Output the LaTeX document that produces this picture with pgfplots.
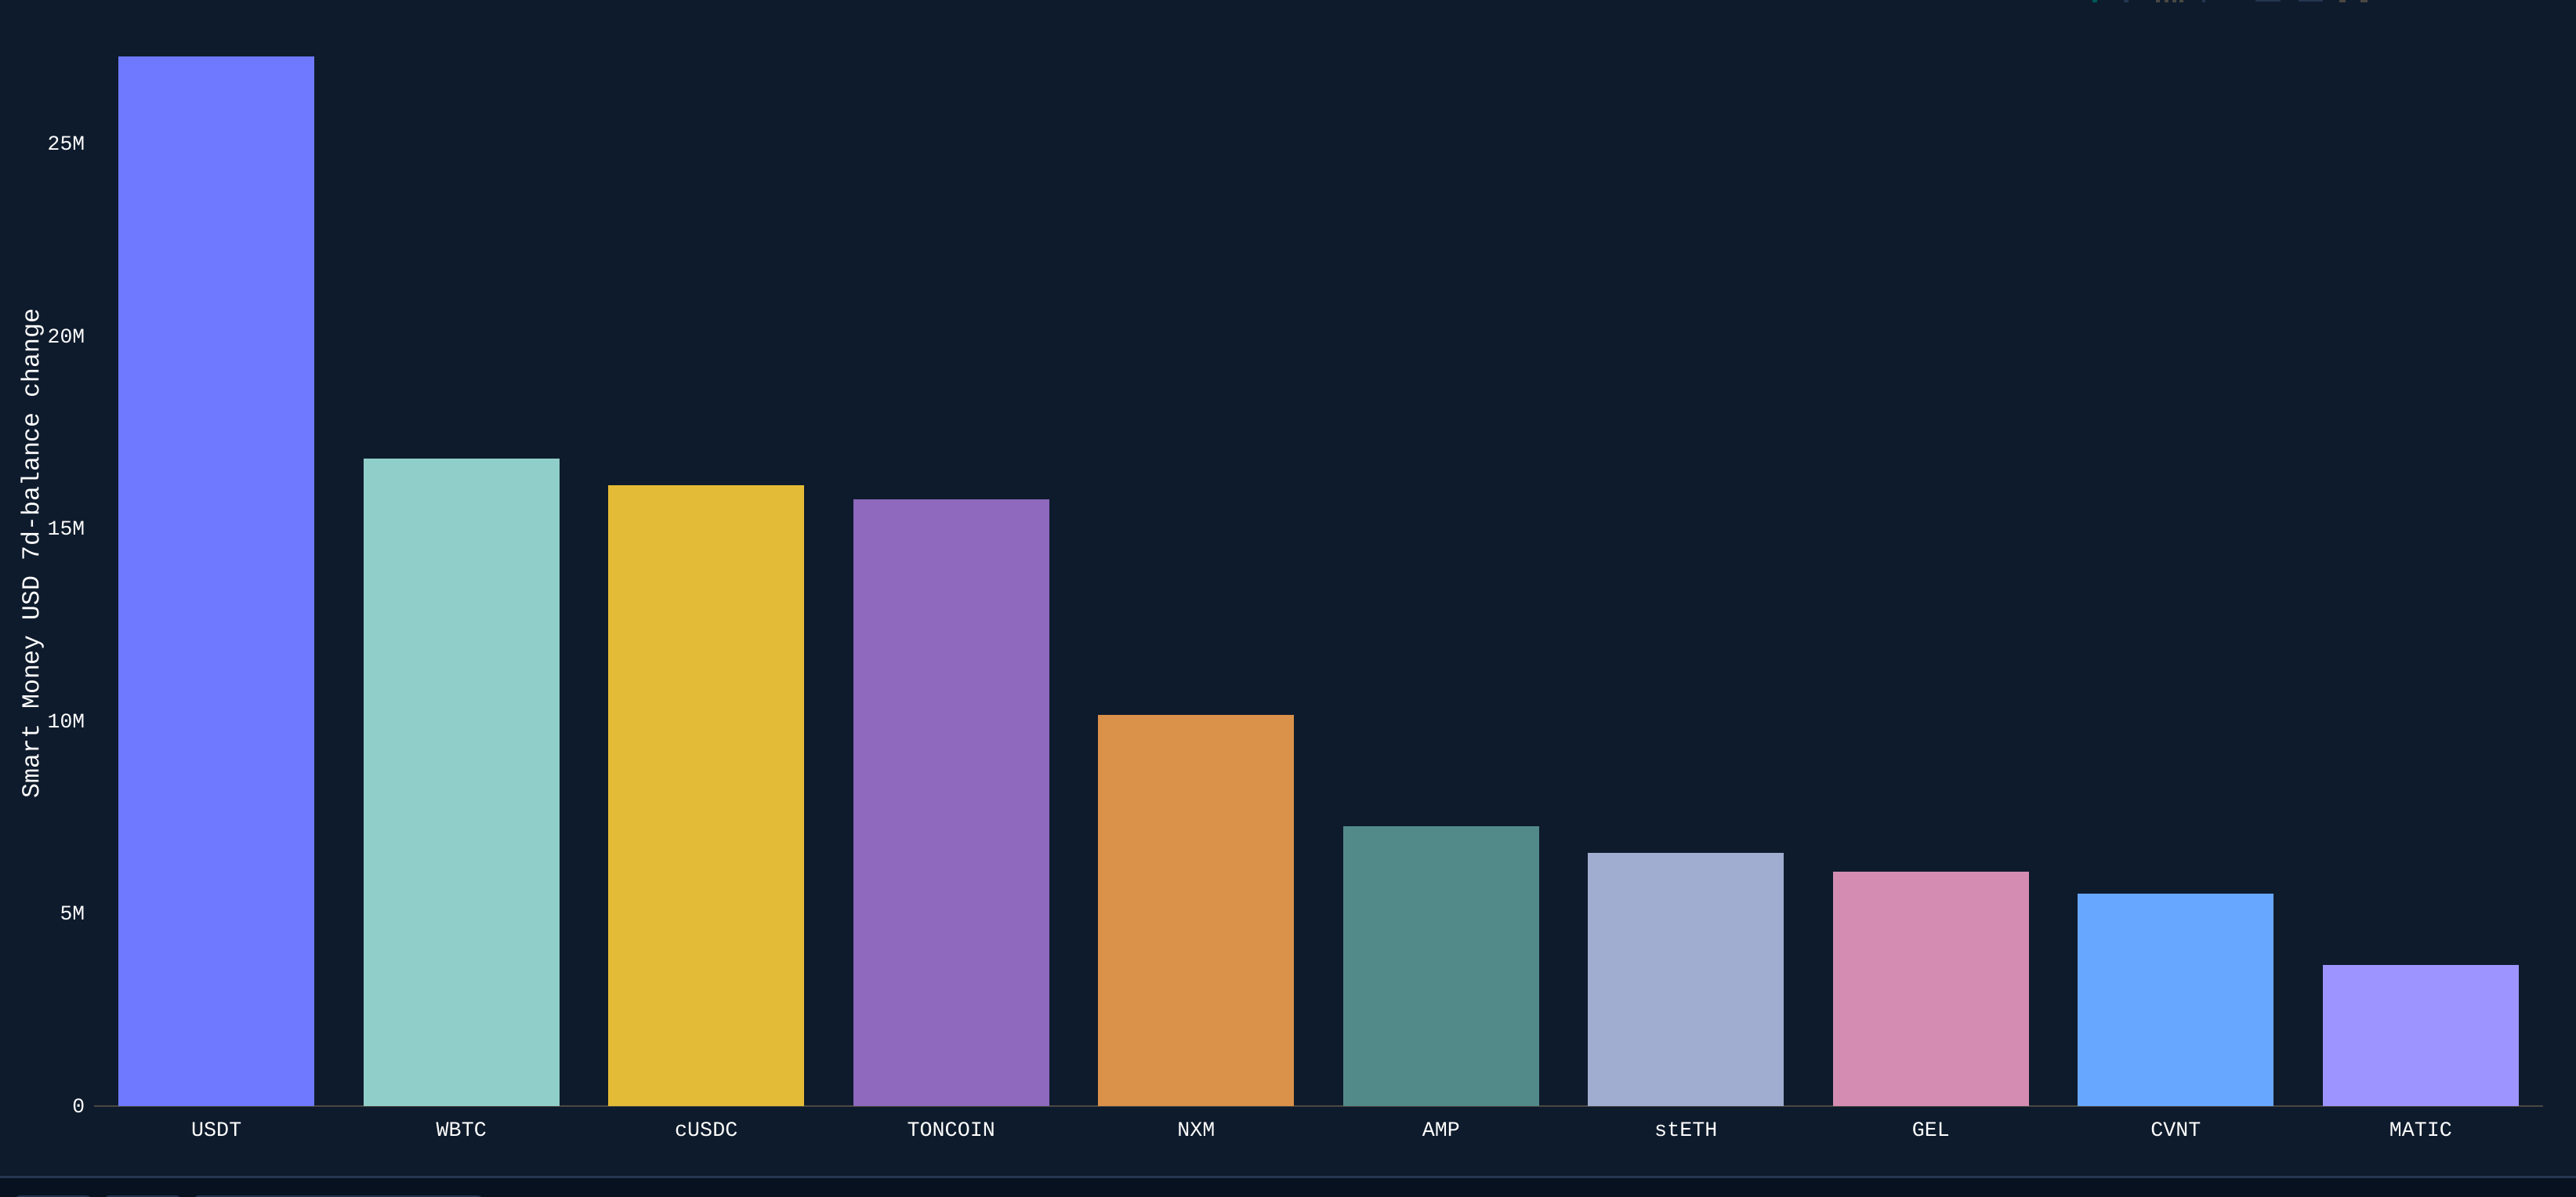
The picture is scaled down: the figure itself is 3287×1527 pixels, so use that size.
\documentclass[border=0pt]{standalone}
\usepackage{pgfplots}
\pgfplotsset{compat=1.18}
\usepackage{fontspec}
\setmainfont{Liberation Mono}
\definecolor{bgc}{HTML}{0E1B2C}
\definecolor{stripc}{HTML}{07111F}
\definecolor{linec}{HTML}{253650}
\definecolor{basec}{HTML}{4A4843}
\definecolor{gridc}{HTML}{1B2735}
\definecolor{c1}{HTML}{6E79FF}
\definecolor{c2}{HTML}{90CEC9}
\definecolor{c3}{HTML}{E4BB36}
\definecolor{c4}{HTML}{8F69BE}
\definecolor{c5}{HTML}{DA914A}
\definecolor{c6}{HTML}{528A8A}
\definecolor{c7}{HTML}{A0ADD0}
\definecolor{c8}{HTML}{D58CB3}
\definecolor{c9}{HTML}{68A7FF}
\definecolor{c10}{HTML}{9D94FF}
\begin{document}
\begin{tikzpicture}[x=0.25pt,y=0.25pt]
\path[use as bounding box] (0,0) rectangle (3287,1527);
\fill[bgc] (0,0) rectangle (3287,1527);
\fill[stripc] (0,0) rectangle (3287,25);
\fill[linec] (0,24) rectangle (3287,27);
\fill[linec,rounded corners=2pt] (18,-8) rectangle (118,2);
\fill[linec,rounded corners=2pt] (132,-8) rectangle (232,2);
\fill[linec,rounded corners=2pt] (246,-8) rectangle (617,2);
\begin{axis}[
  at={(30pt,29pt)},anchor=south west,
  scale only axis,width=781.25pt,height=343.85pt,
  xmin=-0.5,xmax=9.5,ymin=0,ymax=28,
  axis x line=bottom,axis y line=none,
  axis line style={basec,line width=0.5pt,-},
  ytick={0,5,10,15,20,25},
  ymajorgrids,
  major grid style={gridc,line width=0.25pt,dash pattern=on 0.5pt off 0.75pt},
  xtick={0,1,2,3,4,5,6,7,8,9},
  xticklabels={USDT,WBTC,cUSDC,TONCOIN,NXM,AMP,stETH,GEL,CVNT,MATIC},
  major tick length=0pt,
  tick style={draw=none},
  xticklabel style={font=\fontsize{6.67pt}{8pt}\selectfont,text=white,anchor=base,yshift=-9.6pt},
  ybar,bar width=62.5pt,
  clip=false,
]
\addplot[bar shift=0pt,fill=c1,draw=none] coordinates {(0,27.26)};
\addplot[bar shift=0pt,fill=c2,draw=none] coordinates {(1,16.82)};
\addplot[bar shift=0pt,fill=c3,draw=none] coordinates {(2,16.13)};
\addplot[bar shift=0pt,fill=c4,draw=none] coordinates {(3,15.75)};
\addplot[bar shift=0pt,fill=c5,draw=none] coordinates {(4,10.16)};
\addplot[bar shift=0pt,fill=c6,draw=none] coordinates {(5,7.26)};
\addplot[bar shift=0pt,fill=c7,draw=none] coordinates {(6,6.58)};
\addplot[bar shift=0pt,fill=c8,draw=none] coordinates {(7,6.09)};
\addplot[bar shift=0pt,fill=c9,draw=none] coordinates {(8,5.52)};
\addplot[bar shift=0pt,fill=c10,draw=none] coordinates {(9,3.66)};
\end{axis}
% y tick labels and axis title
\begin{scope}[every node/.style={text=white,font=\fontsize{6.6pt}{8pt}\selectfont,anchor=east,inner sep=0pt}]
\node at (109,116) {0};
\node at (109,361.6) {5M};
\node at (109,607.2) {10M};
\node at (109,852.8) {15M};
\node at (109,1098.4) {20M};
\node at (109,1344) {25M};
\end{scope}
\node[text=white,font=\fontsize{7.89pt}{10pt}\selectfont,rotate=90,inner sep=0pt,anchor=base] at (49.3,821) {Smart Money USD 7d-balance change};
\fill[teal!70!black] (2670,1524) rectangle (2676,1527);
\fill[linec] (2710,1524) rectangle (2716,1527);
\fill[basec] (2751,1524) rectangle (2756,1527);
\fill[basec] (2762,1524) rectangle (2767,1527);
\fill[basec] (2772,1524) rectangle (2777,1527);
\fill[basec] (2781,1524) rectangle (2786,1527);
\fill[linec] (2810,1524) rectangle (2814,1527);
\fill[linec] (2878,1525) rectangle (2910,1527);
\fill[linec] (2933,1525) rectangle (2964,1527);
\fill[basec] (2985,1524) rectangle (2993,1527);
\fill[basec] (3012,1524) rectangle (3021,1527);
\end{tikzpicture}
\end{document}
